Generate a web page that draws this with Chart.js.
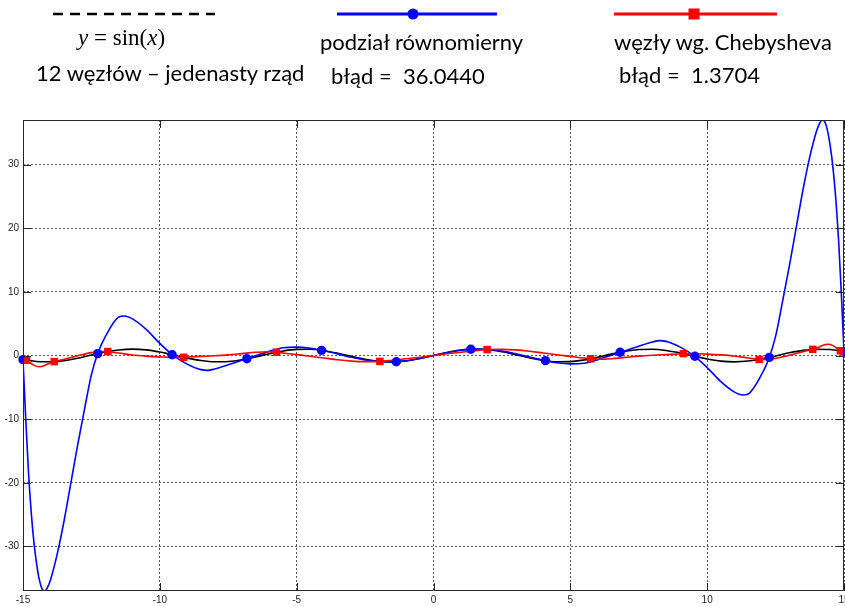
<!DOCTYPE html>
<html>
<head>
<meta charset="utf-8">
<script src="https://cdn.jsdelivr.net/npm/chart.js@4.4.0/dist/chart.umd.min.js"></script>
<style>
  html, body { margin: 0; padding: 0; background: #fff; overflow: hidden; }
  #wrap { position: relative; width: 845px; height: 606px; }
  #c, #legend { position: absolute; left: 0; top: 0; }
</style>
</head>
<body>
<div id="wrap">
  <canvas id="c" width="845" height="606"></canvas>
  <svg id="legend" width="845" height="110" font-family="Lato, 'Open Sans', sans-serif" font-size="22" fill="#000">
    <line x1="53" y1="14" x2="215" y2="14" stroke="#000" stroke-width="2.5" stroke-dasharray="10 7"/>
    <text x="78" y="45" font-family="'Liberation Serif', 'DejaVu Serif', serif" font-size="23"><tspan font-style="italic">y</tspan> = sin(<tspan font-style="italic">x</tspan>)</text>
    <text x="36" y="81">12 węzłów – jedenasty rząd</text>

    <line x1="337" y1="14" x2="497" y2="14" stroke="#0000ff" stroke-width="3"/>
    <circle cx="413" cy="14" r="5.5" fill="#0000ff"/>
    <text x="320" y="50">podział równomierny</text>
    <text x="331" y="84" style="white-space:pre">błąd =  36.0440</text>

    <line x1="614" y1="14" x2="777" y2="14" stroke="#ff0000" stroke-width="3"/>
    <rect x="688.5" y="8.5" width="11" height="11" fill="#ff0000"/>
    <text x="614" y="50">węzły wg. Chebysheva</text>
    <text x="619" y="83" style="white-space:pre">błąd =  1.3704</text>
  </svg>
</div>
<script>
// y = sin(x), sampled every 0.5
const sinX = [-15,-14.5,-14,-13.5,-13,-12.5,-12,-11.5,-11,-10.5,-10,-9.5,-9,-8.5,-8,-7.5,-7,-6.5,-6,-5.5,-5,-4.5,-4,-3.5,-3,-2.5,-2,-1.5,-1,-0.5,0,
              0.5,1,1.5,2,2.5,3,3.5,4,4.5,5,5.5,6,6.5,7,7.5,8,8.5,9,9.5,10,10.5,11,11.5,12,12.5,13,13.5,14,14.5,15];
const sinY = [-0.650,-0.935,-0.991,-0.804,-0.420,0.066,0.537,0.875,1.000,0.880,0.544,0.075,-0.412,-0.798,-0.989,-0.938,-0.657,-0.215,0.279,0.706,0.959,0.978,0.757,0.351,-0.141,-0.598,-0.909,-0.997,-0.841,-0.479,0,
              0.479,0.841,0.997,0.909,0.598,0.141,-0.351,-0.757,-0.978,-0.959,-0.706,-0.279,0.215,0.657,0.938,0.989,0.798,0.412,-0.075,-0.544,-0.880,-1.000,-0.875,-0.537,-0.066,0.420,0.804,0.991,0.935,0.650];

// interpolating polynomial on 12 equally spaced nodes
const equalX = [-15,-14.9,-14.8,-14.7,-14.6,-14.5,-14.4,-14.3,-14.2,-14.1,-14,-13.75,-13.5,-13.25,-13,-12.75,-12.5,-12.25,-12,-11.5,-11.3,-11,-10.5,-10,-9.5,-9,-8.5,-8.25,-8,-7.5,-7,-6.5,-6,-5.5,-5,-4.5,-4,-3.5,-3,-2.5,-2,-1.5,-1,-0.5,0,
                0.5,1,1.5,2,2.5,3,3.5,4,4.5,5,5.5,6,6.5,7,7.5,8,8.25,8.5,9,9.5,10,10.5,11,11.3,11.5,12,12.25,12.5,12.75,13,13.25,13.5,13.75,14,14.1,14.2,14.3,14.4,14.5,14.6,14.7,14.8,14.9,15];
const equalY = [-0.65,-10.0,-18.3,-24.6,-29.4,-32.8,-35.3,-36.7,-37.0,-36.4,-35.3,-31.2,-26.0,-20.0,-14.0,-8.4,-3.0,0.55,2.90,6.05,6.20,5.75,4.10,1.90,-0.02,-1.35,-2.22,-2.33,-2.12,-1.47,-0.76,-0.03,0.65,1.22,1.32,1.15,0.74,0.25,-0.28,-0.70,-0.95,-1.00,-0.83,-0.47,0,
                0.47,0.83,1.00,0.95,0.70,0.28,-0.25,-0.74,-1.15,-1.32,-1.22,-0.65,0.03,0.76,1.47,2.12,2.33,2.22,1.35,0.02,-1.90,-4.10,-5.75,-6.20,-6.05,-2.90,-0.55,3.0,8.4,14.0,20.0,26.0,31.2,35.3,36.4,37.0,36.7,35.3,32.8,29.4,24.6,18.3,10.0,0.65];

// interpolating polynomial on 12 Chebyshev nodes
const chebX = [-15,-14.8,-14.6,-14.4,-14.2,-14,-13.5,-13,-12.5,-12,-11.5,-11,-10.5,-10,-9.5,-9,-8.5,-8,-7.5,-7,-6.5,-6,-5.5,-5,-4.5,-4,-3.5,-3,-2.5,-2,-1.5,-1,-0.5,0,
               0.5,1,1.5,2,2.5,3,3.5,4,4.5,5,5.5,6,6.5,7,7.5,8,8.5,9,9.5,10,10.5,11,11.5,12,12.5,13,13.5,14,14.2,14.4,14.6,14.8,15];
const chebY = [-0.30,-0.95,-1.55,-1.76,-1.55,-1.15,-0.58,-0.05,0.45,0.64,0.38,0.08,-0.10,-0.22,-0.30,-0.24,-0.14,-0.04,0.10,0.30,0.50,0.58,0.40,0.14,-0.12,-0.40,-0.68,-0.88,-0.97,-0.94,-0.75,-0.52,-0.27,0,
               0.27,0.52,0.75,0.94,0.97,0.88,0.68,0.40,0.12,-0.14,-0.40,-0.58,-0.50,-0.30,-0.10,0.04,0.14,0.24,0.30,0.22,0.10,-0.08,-0.38,-0.64,-0.45,0.05,0.58,1.15,1.55,1.76,1.55,0.95,0.30];

// interpolation nodes
const equalNodesX = [-15,-12.27,-9.55,-6.82,-4.09,-1.36,1.36,4.09,6.82,9.55,12.27,15];
const equalNodesY = [-0.65,0.29,0.12,-0.51,0.81,-0.98,0.98,-0.81,0.51,-0.12,-0.29,0.65];
const chebNodesX = [-14.87,-13.86,-11.90,-9.13,-5.74,-1.96,1.96,5.74,9.13,11.90,13.86,14.87];
const chebNodesY = [-0.74,-0.96,0.62,-0.29,0.52,-0.93,0.93,-0.52,0.29,-0.62,0.96,0.74];

// axis ticks
const xTicks = [-15,-10,-5,0,5,10,15];
const yTicks = [-30,-20,-10,0,10,20,30];

const pts = (xs, ys) => xs.map((x, i) => ({ x, y: ys[i] }));

const AXIS = '#262626';

// box around the plot with inward tick marks on all four sides
const axesBox = {
  id: 'axesBox',
  afterDatasetsDraw(chart) {
    const { ctx, chartArea: a, scales: { x, y } } = chart;
    const len = 8;
    ctx.save();
    ctx.strokeStyle = AXIS;
    ctx.lineWidth = 1;
    ctx.setLineDash([]);
    ctx.beginPath();
    ctx.rect(Math.round(a.left) + 0.5, Math.round(a.top) + 0.5,
             Math.round(a.right - a.left) - 1, Math.round(a.bottom - a.top) - 1);
    x.ticks.forEach(t => {
      const p = Math.round(x.getPixelForValue(t.value)) + 0.5;
      ctx.moveTo(p, a.bottom); ctx.lineTo(p, a.bottom - len);
      ctx.moveTo(p, a.top); ctx.lineTo(p, a.top + len);
    });
    y.ticks.forEach(t => {
      const p = Math.round(y.getPixelForValue(t.value)) + 0.5;
      ctx.moveTo(a.left, p); ctx.lineTo(a.left + len, p);
      ctx.moveTo(a.right, p); ctx.lineTo(a.right - len, p);
    });
    ctx.stroke();
    ctx.restore();
  }
};

const curve = (xs, ys, color, order) => ({
  data: pts(xs, ys),
  showLine: true,
  borderColor: color,
  borderWidth: 1.6,
  pointRadius: 0,
  pointHoverRadius: 0,
  cubicInterpolationMode: 'monotone',
  order
});

new Chart(document.getElementById('c'), {
  type: 'scatter',
  data: {
    datasets: [
      { data: pts(chebNodesX, chebNodesY), showLine: false, pointStyle: 'rect', pointRadius: 5.3,
        pointBackgroundColor: '#ff0000', pointBorderWidth: 0, clip: false, order: 0 },
      { data: pts(equalNodesX, equalNodesY), showLine: false, pointStyle: 'circle', pointRadius: 4.7,
        pointBackgroundColor: '#0000ff', pointBorderWidth: 0, clip: false, order: 1 },
      curve(chebX, chebY, '#ff0000', 2),
      curve(equalX, equalY, '#0000ff', 3),
      curve(sinX, sinY, '#000000', 4)
    ]
  },
  options: {
    responsive: false,
    animation: false,
    devicePixelRatio: 1,
    layout: { autoPadding: false, padding: { top: 120, left: 0, right: 1, bottom: 0 } },
    plugins: { legend: { display: false }, tooltip: { enabled: false } },
    events: [],
    scales: {
      x: {
        type: 'linear', min: -15, max: 15,
        afterBuildTicks: s => { s.ticks = xTicks.map(v => ({ value: v })); },
        afterFit: s => { s.height = 15; s.paddingLeft = 0; s.paddingRight = 0; },
        ticks: { padding: 3, color: AXIS, font: { family: "'Liberation Sans', Arial, sans-serif", size: 10 }, maxRotation: 0, autoSkip: false },
        grid: { color: '#555', lineWidth: 1, drawTicks: false },
        border: { display: false, dash: [2, 2] }
      },
      y: {
        type: 'linear', min: -37, max: 37,
        afterBuildTicks: s => { s.ticks = yTicks.map(v => ({ value: v })); },
        afterFit: s => { s.width = 23; s.paddingTop = 0; s.paddingBottom = 0; },
        ticks: { padding: 4, color: AXIS, font: { family: "'Liberation Sans', Arial, sans-serif", size: 10 } },
        grid: { color: '#555', lineWidth: 1, drawTicks: false },
        border: { display: false, dash: [2, 2] }
      }
    }
  },
  plugins: [axesBox]
});
</script>
</body>
</html>
